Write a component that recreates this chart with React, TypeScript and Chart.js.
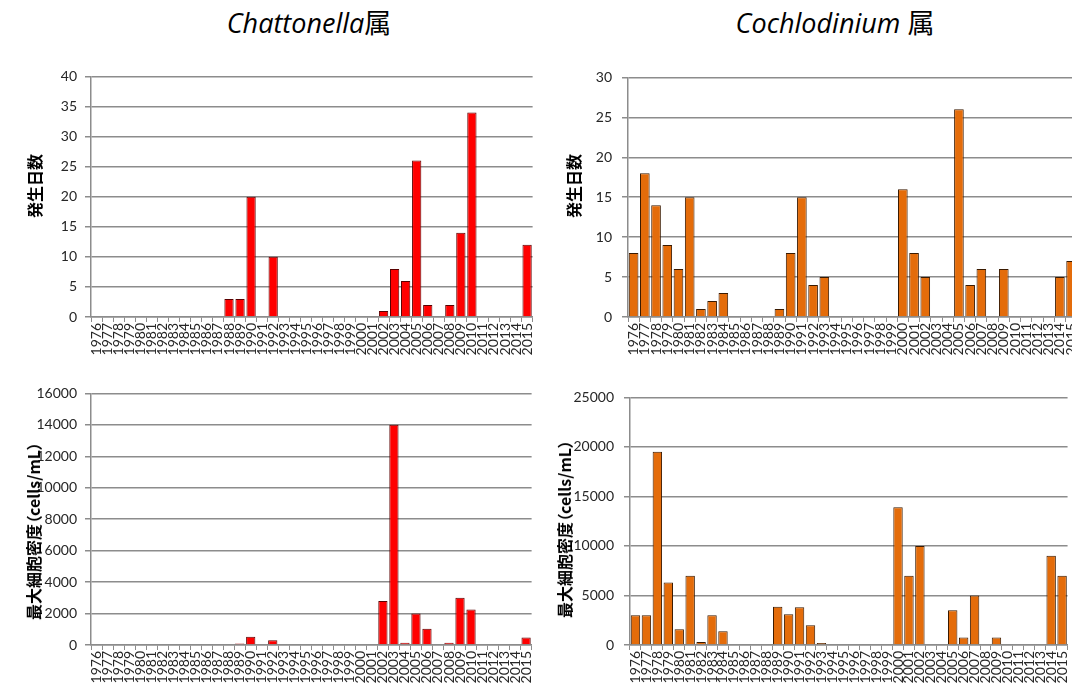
import React, { useEffect, useRef } from "react";
import { Chart, registerables } from "chart.js";

Chart.register(...registerables);

const years = [
  "1976", "1977", "1978", "1979", "1980", "1981", "1982", "1983", "1984", "1985",
  "1986", "1987", "1988", "1989", "1990", "1991", "1992", "1993", "1994", "1995",
  "1996", "1997", "1998", "1999", "2000", "2001", "2002", "2003", "2004", "2005",
  "2006", "2007", "2008", "2009", "2010", "2011", "2012", "2013", "2014", "2015",
];

// Chattonella: days of occurrence
const chattonellaDays = [
  0, 0, 0, 0, 0, 0, 0, 0, 0, 0,
  0, 0, 3, 3, 20, 0, 10, 0, 0, 0,
  0, 0, 0, 0, 0, 0, 1, 8, 6, 26,
  2, 0, 2, 14, 34, 0, 0, 0, 0, 12,
];

// Chattonella: max cell density (cells/mL)
const chattonellaDensity = [
  0, 0, 0, 0, 0, 0, 0, 0, 0, 0,
  0, 0, 50, 100, 520, 0, 300, 0, 0, 0,
  0, 0, 0, 0, 0, 0, 2800, 14000, 150, 2000,
  1030, 0, 150, 3000, 2250, 0, 0, 0, 0, 470,
];

// Cochlodinium: days of occurrence
const cochlodiniumDays = [
  8, 18, 14, 9, 6, 15, 1, 2, 3, 0,
  0, 0, 0, 1, 8, 15, 4, 5, 0, 0,
  0, 0, 0, 0, 16, 8, 5, 0, 0, 26,
  4, 6, 0, 6, 0, 0, 0, 0, 5, 7,
];

// Cochlodinium: max cell density (cells/mL)
const cochlodiniumDensity = [
  3000, 3000, 19500, 6300, 1600, 7000, 300, 3000, 1400, 0,
  0, 0, 0, 3850, 3100, 3800, 2000, 200, 0, 0,
  0, 0, 0, 0, 13900, 7000, 10000, 0, 0, 3500,
  750, 5000, 0, 750, 0, 0, 0, 0, 9000, 7000,
];

const titleLeft = "Chattonella";
const titleRight = "Cochlodinium ";
const genusSuffix = "属";
const yTitleDays = "発生日数";
const yTitleDensity = "最大細胞密度（cells/mL）";

const RED = "#FF0000";
const RED_BORDER = "#5a0000";
const ORANGE = "#E46C0A";
const ORANGE_BORDER = "#3a1a00";
const GRID = "#8c8c8c";

const FONT = "Lato, 'Noto Sans', 'Noto Sans CJK JP', sans-serif";
const TITLE_FONT = "'Open Sans', 'Noto Sans CJK JP', sans-serif";
const CJK = "'Noto Sans CJK JP', sans-serif";

type Spec = {
  data: number[];
  color: string;
  border: string;
  max: number;
  step: number;
  yTitle: string;
  left: number;
  top: number;
  width: number;
  height: number;
  yWidth: number;
  tickPad: number;
  barPct: number;
  titleCx: number;
  titleCy: number;
};

function BarChart({ spec }: { spec: Spec }) {
  const ref = useRef<HTMLCanvasElement | null>(null);
  useEffect(() => {
    if (!ref.current) return;
    const chart = new Chart(ref.current, {
      type: "bar",
      data: {
        labels: years,
        datasets: [
          {
            data: spec.data,
            backgroundColor: spec.color,
            borderColor: spec.border,
            borderWidth: 1,
            categoryPercentage: 1,
            barPercentage: spec.barPct,
          },
        ],
      },
      options: {
        animation: false,
        responsive: false,
        maintainAspectRatio: false,
        layout: { padding: { top: 16, right: 8, left: 0, bottom: 0 } },
        plugins: { legend: { display: false }, tooltip: { enabled: false } },
        scales: {
          x: {
            grid: {
              display: true,
              drawOnChartArea: false,
              drawTicks: true,
              tickLength: 5,
              color: GRID,
              lineWidth: 1,
            },
            border: { display: true, color: GRID, width: 1.5 },
            ticks: {
              autoSkip: false,
              minRotation: 90,
              maxRotation: 90,
              padding: 1,
              color: "#262626",
              font: { family: FONT, size: 14 },
            },
            afterFit: (s: any) => {
              s.height = 45;
            },
          },
          y: {
            min: 0,
            max: spec.max,
            ticks: {
              stepSize: spec.step,
              padding: spec.tickPad,
              color: "#262626",
              font: { family: FONT, size: 14 },
              callback: (v: any) => String(v),
            },
            grid: { color: GRID, lineWidth: 1.5, tickLength: 6 },
            border: { display: true, color: GRID, width: 1.5 },
            afterFit: (s: any) => {
              s.width = spec.yWidth;
            },
          },
        },
      },
    });
    return () => chart.destroy();
  }, [spec]);
  return (
    <>
      <div
        style={{
          position: "absolute",
          left: spec.left,
          top: spec.top,
          width: spec.width,
          height: spec.height,
        }}
      >
        <canvas ref={ref} width={spec.width} height={spec.height} style={{ width: spec.width, height: spec.height }} />
      </div>
      <div
        style={{
          position: "absolute",
          left: spec.titleCx,
          top: spec.titleCy,
          transform: "translate(-50%, -50%) rotate(-90deg)",
          whiteSpace: "nowrap",
          fontFamily: CJK,
          fontWeight: "bold",
          fontSize: 16,
          lineHeight: "20px",
          color: "#000",
          fontFeatureSettings: '"palt"',
        }}
      >
        {spec.yTitle}
      </div>
    </>
  );
}

const specs: Spec[] = [
  {
    data: chattonellaDays, color: RED, border: RED_BORDER, max: 40, step: 5, yTitle: yTitleDays,
    left: 0, top: 60, width: 545, height: 302, yWidth: 91, tickPad: 8, barPct: 0.84,
    titleCx: 34, titleCy: 186,
  },
  {
    data: chattonellaDensity, color: RED, border: RED_BORDER, max: 16000, step: 2000, yTitle: yTitleDensity,
    left: 0, top: 377, width: 544, height: 313, yWidth: 91, tickPad: 8, barPct: 0.84,
    titleCx: 33, titleCy: 531,
  },
  {
    data: cochlodiniumDays, color: ORANGE, border: ORANGE_BORDER, max: 30, step: 5, yTitle: yTitleDays,
    left: 540, top: 59, width: 549, height: 303, yWidth: 88, tickPad: 10, barPct: 0.86,
    titleCx: 573, titleCy: 186,
  },
  {
    data: cochlodiniumDensity, color: ORANGE, border: ORANGE_BORDER, max: 25000, step: 5000, yTitle: yTitleDensity,
    left: 540, top: 379, width: 540, height: 311, yWidth: 90, tickPad: 10, barPct: 0.86,
    titleCx: 564, titleCy: 529,
  },
];

export default function App() {
  return (
    <div
      style={{
        position: "absolute",
        left: 0,
        top: 0,
        width: 1072,
        height: 688,
        overflow: "hidden",
        background: "#fff",
      }}
    >
      <div
        style={{
          position: "absolute",
          left: 309,
          top: 2,
          transform: "translateX(-50%)",
          whiteSpace: "nowrap",
          fontFamily: TITLE_FONT,
          fontSize: 27,
          color: "#000",
        }}
      >
        <i>{titleLeft}</i>
        <span style={{ fontFamily: CJK }}>{genusSuffix}</span>
      </div>
      <div
        style={{
          position: "absolute",
          left: 835,
          top: 2,
          transform: "translateX(-50%)",
          whiteSpace: "pre",
          fontFamily: TITLE_FONT,
          fontSize: 27,
          color: "#000",
        }}
      >
        <i>{titleRight}</i>
        <span style={{ fontFamily: CJK }}>{genusSuffix}</span>
      </div>
      {specs.map((s, i) => (
        <BarChart key={i} spec={s} />
      ))}
    </div>
  );
}
